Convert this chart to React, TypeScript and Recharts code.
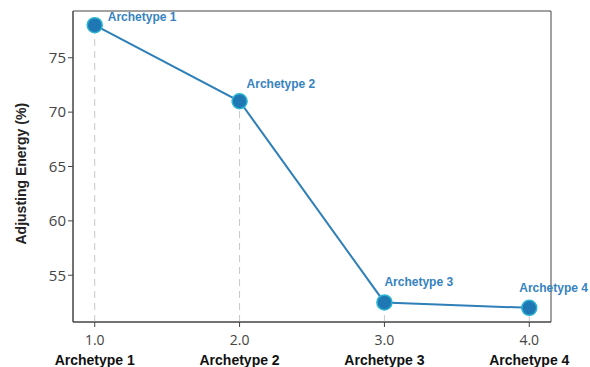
import {
  LineChart,
  Line,
  XAxis,
  YAxis,
  ReferenceLine,
  ReferenceArea,
  LabelList,
} from 'recharts';

const categories = ['Archetype 1', 'Archetype 2', 'Archetype 3', 'Archetype 4'];
const positions = [1, 2, 3, 4];
const energy = [78, 71, 52.5, 52];
const yTicks = [55, 60, 65, 70, 75];

const data = positions.map((x, i) => ({ x, energy: energy[i], name: categories[i] }));

// label nudges, picked by eye
const labelOffsets = [
  { dx: 13, dy: -4 },
  { dx: 7, dy: -13 },
  { dx: 0, dy: -16 },
  { dx: -10, dy: -16 },
];

const X_DOMAIN = [0.85, 4.15];
const Y_DOMAIN = [50.7, 79.3];
const BLUE = '#2f7fb8';

function XTick(props: any) {
  const { x, y, payload } = props;
  const i = positions.indexOf(payload.value);
  return (
    <g transform={`translate(${x},${y})`}>
      <text textAnchor="middle" y={16} fontSize={14} fill="#444" fontFamily="'Open Sans', sans-serif">
        {Number(payload.value).toFixed(1)}
      </text>
      <text textAnchor="middle" y={36} fontSize={14} fontWeight="bold" fill="#111" fontFamily="'Liberation Sans', Arial, sans-serif">
        {categories[i]}
      </text>
    </g>
  );
}

function PointLabel(props: any) {
  const { x, y, index, value } = props;
  const o = labelOffsets[index] || { dx: 0, dy: -12 };
  return (
    <text
      x={x + o.dx}
      y={y + o.dy}
      fontSize={12}
      fontWeight="bold"
      fill="#3583c0"
      fontFamily="'Liberation Sans', Arial, sans-serif"
    >
      {value}
    </text>
  );
}

export default function App() {
  return (
    <div style={{ position: 'absolute', left: 0, top: 0, background: '#fff' }}>
      <LineChart width={590} height={367} data={data} margin={{ top: 11, right: 39, bottom: 0, left: 13 }}>
        <XAxis
          dataKey="x"
          type="number"
          domain={X_DOMAIN}
          ticks={positions}
          tick={<XTick />}
          height={45}
          stroke="#444"
          tickLine={{ stroke: '#444' }}
          tickSize={5}
          interval={0}
        />
        <YAxis
          type="number"
          domain={Y_DOMAIN}
          ticks={yTicks}
          width={60}
          stroke="#444"
          tick={{ fontSize: 15, fill: '#444', fontFamily: "'Open Sans', sans-serif" }}
          tickSize={5}
          label={{
            value: 'Adjusting Energy (%)',
            angle: -90,
            position: 'insideLeft',
            dx: 3,
            dy: 78,
            style: { fontSize: 14, fontWeight: 'bold', fill: '#222', fontFamily: "'Liberation Sans', Arial, sans-serif" },
          }}
        />
        <ReferenceArea
          x1={X_DOMAIN[0]}
          x2={X_DOMAIN[1]}
          y1={Y_DOMAIN[0]}
          y2={Y_DOMAIN[1]}
          fill="none"
          stroke="#444"
          strokeWidth={1}
        />
        {data.map((d) => (
          <ReferenceLine
            key={d.name}
            segment={[
              { x: d.x, y: Y_DOMAIN[0] },
              { x: d.x, y: d.energy },
            ]}
            stroke="#c8c8c8"
            strokeDasharray="7 5"
          />
        ))}
        <Line
          dataKey="energy"
          stroke={BLUE}
          strokeWidth={2}
          dot={{ r: 7.5, fill: '#1f77b4', stroke: '#2bb5d0', strokeWidth: 1.5 }}
          isAnimationActive={false}
        >
          <LabelList dataKey="name" content={<PointLabel />} />
        </Line>
      </LineChart>
    </div>
  );
}
